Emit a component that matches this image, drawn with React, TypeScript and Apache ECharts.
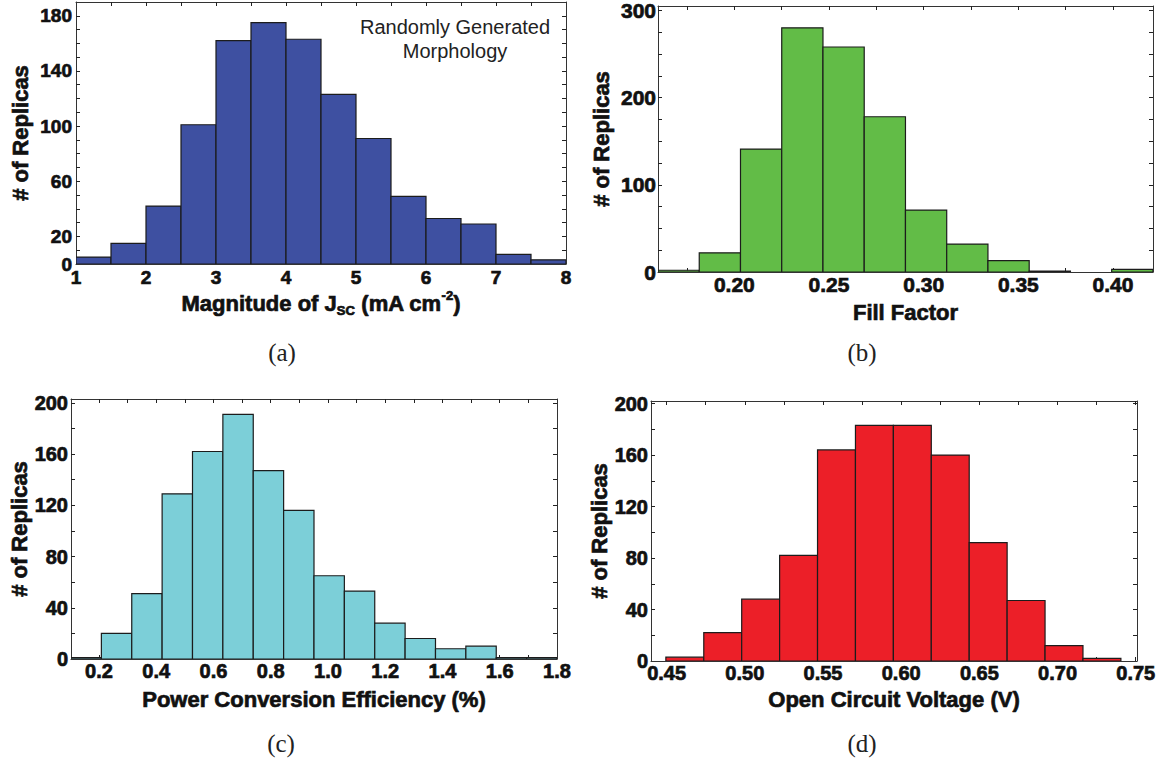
import React, { useEffect, useRef } from "react";
import * as echarts from "echarts";

// (a) Magnitude of short-circuit current density, bins of 0.5 mA cm^-2
const jscBinStart = 1;
const jscBinWidth = 0.5;
const jscCounts = [5, 15, 42, 101, 162, 175, 163, 123, 91, 49, 33, 29, 7, 3];
const jscTickLabels = [1, 2, 3, 4, 5, 6, 7, 8];
const jscTicks = [1.5, 2, 2.5, 3, 3.5, 4, 4.5, 5, 5.5, 6, 6.5, 7, 7.5];
const jscCountLabels = [0, 20, 60, 100, 140, 180];
const jscCountTicks = [10, 20, 30, 40, 50, 60, 70, 80, 90, 100, 110, 120, 130, 140, 150, 160, 170, 180];

// (b) Fill factor
const ffBinStart = 0.1597;
const ffBinWidth = 0.02178;
const ffCounts = [2, 22, 141, 280, 258, 178, 71, 32, 13, 1, 0, 3];
const ffTickLabels = [0.2, 0.25, 0.3, 0.35, 0.4];
const ffTicks = [0.175, 0.2, 0.225, 0.25, 0.275, 0.3, 0.325, 0.35, 0.375, 0.4];
const ffCountLabels = [0, 100, 200, 300];
const ffCountTicks = [25, 50, 75, 100, 125, 150, 175, 200, 225, 250, 275, 300];

// (c) Power conversion efficiency (%)
const pceBinStart = 0.1022;
const pceBinWidth = 0.10611;
const pceCounts = [1, 20, 51, 129, 162, 191, 147, 116, 65, 53, 28, 16, 8, 10, 1, 1];
const pceTickLabels = [0.2, 0.4, 0.6, 0.8, 1.0, 1.2, 1.4, 1.6, 1.8];
const pceTicks = [0.2, 0.3, 0.4, 0.5, 0.6, 0.7, 0.8, 0.9, 1.0, 1.1, 1.2, 1.3, 1.4, 1.5, 1.6, 1.7];
const pceCountLabels = [0, 40, 80, 120, 160, 200];
const pceCountTicks = [20, 40, 60, 80, 100, 120, 140, 160, 180, 200];

// (d) Open circuit voltage (V)
const vocBinStart = 0.4495;
const vocBinWidth = 0.02425;
const vocCounts = [3, 22, 48, 82, 164, 183, 183, 160, 92, 47, 12, 2];
const vocTickLabels = [0.45, 0.5, 0.55, 0.6, 0.65, 0.7, 0.75];
const vocTicks = [0.45, 0.475, 0.5, 0.525, 0.55, 0.575, 0.6, 0.625, 0.65, 0.675, 0.7, 0.725, 0.75];
const vocCountLabels = [0, 40, 80, 120, 160, 200];
const vocCountTicks = [20, 40, 60, 80, 100, 120, 140, 160, 180, 200];

const FONT = "Liberation Sans, Arial, sans-serif";
const SERIF = "Liberation Serif, serif";
const FRAME = "#333";
const EDGE = "#1c1c1c";
const INK = "#111";
// a thin outline in the text colour gives the heavy bold look of the labels
const HEAVY = { textBorderColor: INK, textBorderWidth: 0.7 };

const TITLE_RICH = {
  t: { fontSize: 22, fontWeight: "bold", fontFamily: FONT, color: INK, lineHeight: 28, verticalAlign: "middle", ...HEAVY },
  sub: { fontSize: 13, fontWeight: "bold", fontFamily: FONT, color: INK, lineHeight: 13, verticalAlign: "bottom", ...HEAVY },
  sup: { fontSize: 13, fontWeight: "bold", fontFamily: FONT, color: INK, lineHeight: 14, verticalAlign: "top", ...HEAVY },
};

interface PanelSpec {
  left: number;
  top: number;
  width: number;
  height: number;
  xMin: number;
  xMax: number;
  yMax: number;
  binStart: number;
  binWidth: number;
  counts: number[];
  xLabels: number[];
  xTicks: number[];
  yLabels: number[];
  yTicks: number[];
  digits: number;
  labelSize: number;
  xMargin: number;
  yMargin: number;
  xName: string;
  xNameGap: number;
  yNameGap: number;
  fill: string;
}

const panels: PanelSpec[] = [
  {
    left: 76, top: 2, width: 490, height: 262,
    xMin: 1, xMax: 8, yMax: 190,
    binStart: jscBinStart, binWidth: jscBinWidth, counts: jscCounts,
    xLabels: jscTickLabels, xTicks: jscTicks, yLabels: jscCountLabels, yTicks: jscCountTicks,
    digits: 0, labelSize: 19, xMargin: 4, yMargin: 4,
    xName: "{t|Magnitude of J}{sub|SC}{t| (mA cm}{sup|-2}{t|)}", xNameGap: 25, yNameGap: 45,
    fill: "#3E50A1",
  },
  {
    left: 658, top: 6, width: 495, height: 266,
    xMin: 0.1597, xMax: 0.4211, yMax: 305,
    binStart: ffBinStart, binWidth: ffBinWidth, counts: ffCounts,
    xLabels: ffTickLabels, xTicks: ffTicks, yLabels: ffCountLabels, yTicks: ffCountTicks,
    digits: 2, labelSize: 21, xMargin: 2, yMargin: 2,
    xName: "{t|Fill Factor}", xNameGap: 26, yNameGap: 46,
    fill: "#62BC47",
  },
  {
    left: 71, top: 399, width: 486, height: 260,
    xMin: 0.1022, xMax: 1.8, yMax: 203,
    binStart: pceBinStart, binWidth: pceBinWidth, counts: pceCounts,
    xLabels: pceTickLabels, xTicks: pceTicks, yLabels: pceCountLabels, yTicks: pceCountTicks,
    digits: 1, labelSize: 20, xMargin: 2, yMargin: 3,
    xName: "{t|Power Conversion Efficiency (%)}", xNameGap: 26, yNameGap: 40,
    fill: "#7CCFD8",
  },
  {
    left: 651, top: 401, width: 486, height: 260,
    xMin: 0.44, xMax: 0.7508, yMax: 202,
    binStart: vocBinStart, binWidth: vocBinWidth, counts: vocCounts,
    xLabels: vocTickLabels, xTicks: vocTicks, yLabels: vocCountLabels, yTicks: vocCountTicks,
    digits: 2, labelSize: 20, xMargin: 2, yMargin: 3,
    xName: "{t|Open Circuit Voltage (V)}", xNameGap: 24, yNameGap: 40,
    fill: "#EC1F28",
  },
];

const captions = [
  { text: "(a)", x: 282, y: 352 },
  { text: "(b)", x: 862, y: 352 },
  { text: "(c)", x: 281, y: 743 },
  { text: "(d)", x: 862, y: 743 },
];

function buildOption() {
  const grids: any[] = [];
  const xAxes: any[] = [];
  const yAxes: any[] = [];
  const series: any[] = [];

  panels.forEach((p, i) => {
    grids.push({
      left: p.left,
      top: p.top,
      width: p.width,
      height: p.height,
      containLabel: false,
      outerBoundsMode: "none",
    });

    const frameLine = { show: true, onZero: false, lineStyle: { color: FRAME, width: 1 } };
    const ticks = (vals: number[]) => ({
      show: true,
      inside: true,
      length: 4,
      customValues: vals,
      lineStyle: { color: "#222", width: 1 },
    });
    const labelStyle = {
      fontSize: p.labelSize,
      fontWeight: "bold",
      fontFamily: FONT,
      color: INK,
      ...HEAVY,
    };

    // bottom axis with labels, top axis mirrors its ticks
    xAxes.push({
      type: "value",
      gridIndex: i,
      position: "bottom",
      min: p.xMin,
      max: p.xMax,
      axisLine: frameLine,
      axisTick: ticks(p.xTicks),
      splitLine: { show: false },
      axisLabel: {
        ...labelStyle,
        customValues: p.xLabels,
        margin: p.xMargin,
        formatter: (v: number) => v.toFixed(p.digits),
      },
      name: p.xName,
      nameLocation: "middle",
      nameGap: p.xNameGap,
      nameTextStyle: { fontSize: 22, fontWeight: "bold", fontFamily: FONT, color: INK, rich: TITLE_RICH },
    });
    xAxes.push({
      type: "value",
      gridIndex: i,
      position: "top",
      min: p.xMin,
      max: p.xMax,
      axisLine: frameLine,
      axisTick: ticks(p.xTicks),
      splitLine: { show: false },
      axisLabel: { show: false },
    });

    // left axis with labels, right axis mirrors its ticks
    yAxes.push({
      type: "value",
      gridIndex: i,
      position: "left",
      min: 0,
      max: p.yMax,
      axisLine: frameLine,
      axisTick: ticks(p.yTicks),
      splitLine: { show: false },
      axisLabel: {
        ...labelStyle,
        customValues: p.yLabels,
        margin: p.yMargin,
        formatter: (v: number) => String(v),
      },
      name: "# of Replicas",
      nameLocation: "middle",
      nameRotate: 90,
      nameGap: p.yNameGap,
      nameTextStyle: { fontSize: 22, fontWeight: "bold", fontFamily: FONT, color: INK, ...HEAVY },
    });
    yAxes.push({
      type: "value",
      gridIndex: i,
      position: "right",
      min: 0,
      max: p.yMax,
      axisLine: frameLine,
      axisTick: ticks(p.yTicks),
      splitLine: { show: false },
      axisLabel: { show: false },
    });

    const bins = p.counts.map((c, k) => [
      p.binStart + k * p.binWidth,
      p.binStart + (k + 1) * p.binWidth,
      c,
    ]);

    series.push({
      type: "custom",
      coordinateSystem: "cartesian2d",
      xAxisIndex: 2 * i,
      yAxisIndex: 2 * i,
      clip: true,
      silent: true,
      data: bins,
      encode: { x: [0, 1], y: 2 },
      renderItem: (_params: any, api: any) => {
        const count = api.value(2);
        if (!count) return null;
        const topLeft = api.coord([api.value(0), count]);
        const bottomRight = api.coord([api.value(1), 0]);
        return {
          type: "rect",
          shape: {
            x: topLeft[0],
            y: topLeft[1],
            width: bottomRight[0] - topLeft[0],
            height: bottomRight[1] - topLeft[1],
          },
          style: { fill: p.fill, stroke: EDGE, lineWidth: 1.2 },
        };
      },
    });
  });

  const graphic: any[] = [
    {
      type: "text",
      x: 455,
      y: 27,
      style: {
        text: "Randomly Generated",
        fontSize: 20,
        fontFamily: FONT,
        fill: "#222",
        align: "center",
        verticalAlign: "middle",
      },
    },
    {
      type: "text",
      x: 455,
      y: 51,
      style: {
        text: "Morphology",
        fontSize: 20,
        fontFamily: FONT,
        fill: "#222",
        align: "center",
        verticalAlign: "middle",
      },
    },
    ...captions.map((c) => ({
      type: "text",
      x: c.x,
      y: c.y,
      style: {
        text: c.text,
        fontSize: 25,
        fontFamily: SERIF,
        fill: "#222",
        align: "center",
        verticalAlign: "middle",
      },
    })),
  ];

  return {
    animation: false,
    backgroundColor: "#ffffff",
    grid: grids,
    xAxis: xAxes,
    yAxis: yAxes,
    series,
    graphic,
  };
}

export default function App() {
  const ref = useRef<HTMLDivElement>(null);

  useEffect(() => {
    if (!ref.current) return;
    const chart = echarts.init(ref.current, null, { renderer: "svg" });
    chart.setOption(buildOption() as any);
    return () => chart.dispose();
  }, []);

  return (
    <div
      ref={ref}
      style={{
        position: "absolute",
        left: 0,
        top: 0,
        width: 1159,
        height: 761,
        background: "#fff",
      }}
    />
  );
}
